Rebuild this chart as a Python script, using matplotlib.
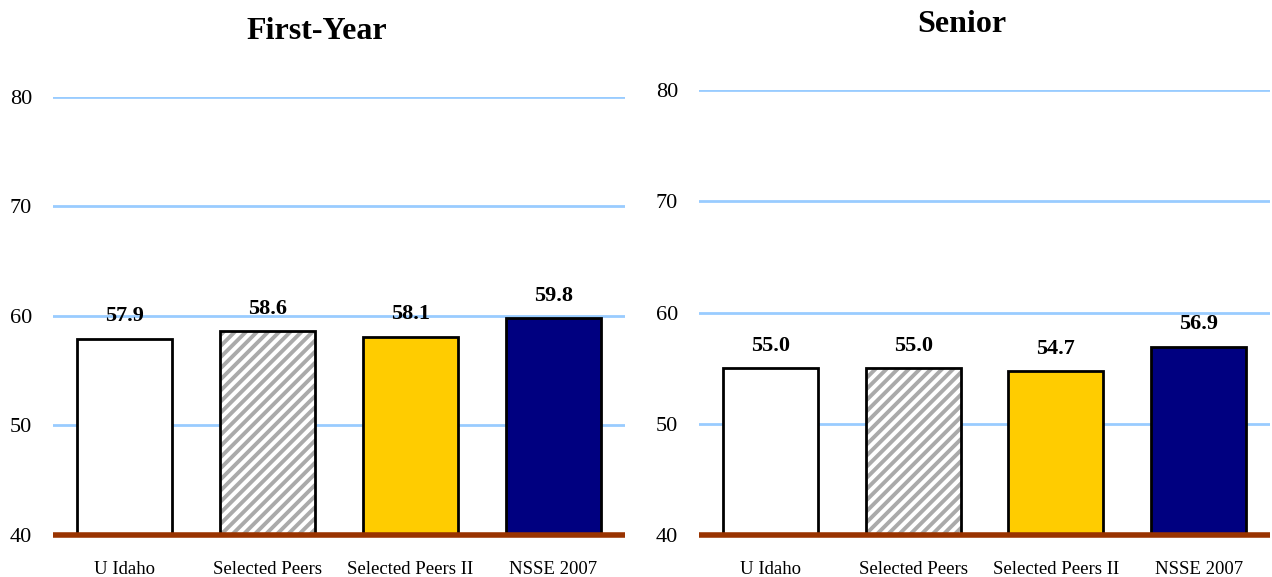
import matplotlib.pyplot as plt

plt.rcParams['font.family'] = ['Liberation Serif', 'DejaVu Serif']
plt.rcParams['hatch.linewidth'] = 2.8

groups = ['U Idaho', 'Selected Peers', 'Selected Peers II', 'NSSE 2007']
first_year = [57.9, 58.6, 58.1, 59.8]
senior = [55.0, 55.0, 54.7, 56.9]
bar_colors = ['white', 'white', '#FFCC00', '#000080']
bar_hatches = ['', '///', '', '']

fig = plt.figure(figsize=(12.72, 5.77), dpi=100)
ax1 = fig.add_axes([0.0417, 0.0728, 0.4497, 0.7591])
ax2 = fig.add_axes([0.5495, 0.0728, 0.4489, 0.7712])


def draw_panel(ax, values, title):
    x = list(range(len(groups)))
    # fill first (grey hatch), then the black outline on top
    ax.bar(x, values, width=0.665, bottom=0, color=bar_colors, hatch=bar_hatches,
           edgecolor='#aaaaaa', linewidth=0, zorder=3)
    ax.bar(x, values, width=0.665, bottom=0, fill=False,
           edgecolor='black', linewidth=2, zorder=3.5)
    for i, v in enumerate(values):
        ax.annotate(f'{v:.1f}', (i, v), xytext=(0, 9), textcoords='offset points',
                    ha='center', va='bottom', fontsize=16, fontweight='bold')
    ax.set_ylim(40, 80)
    ax.set_xlim(-0.5, len(groups) - 0.5)
    ax.set_yticks([40, 50, 60, 70, 80])
    ax.yaxis.grid(True, color='#99CCFF', linewidth=2)
    ax.set_axisbelow(True)
    ax.set_xticks(x)
    ax.set_xticklabels(groups, fontsize=13.5)
    ax.tick_params(length=0)
    ax.tick_params(axis='y', labelsize=16, pad=15)
    ax.tick_params(axis='x', pad=19)
    for s in ['top', 'left', 'right']:
        ax.spines[s].set_visible(False)
    ax.spines['bottom'].set_color('#993300')
    ax.spines['bottom'].set_linewidth(4)
    ax.spines['bottom'].set_capstyle('butt')
    ax.spines['bottom'].set_zorder(4)
    ax.set_title(title, fontsize=23, fontweight='bold', pad=42, x=0.461)


draw_panel(ax1, first_year, 'First-Year')
draw_panel(ax2, senior, 'Senior')

fig.savefig('out.png', dpi=100)
